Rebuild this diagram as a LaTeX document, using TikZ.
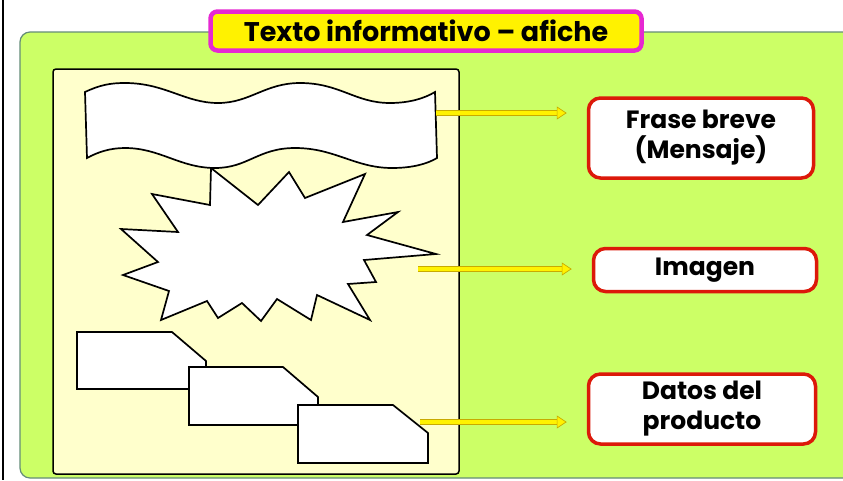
\documentclass[tikz,border=0pt]{standalone}
\usepackage{fontspec}
\setmainfont{Poppins}
\usetikzlibrary{arrows.meta}
\definecolor{verde}{RGB}{204,255,102}
\definecolor{bordeverde}{RGB}{100,140,120}
\definecolor{crema}{RGB}{255,255,204}
\definecolor{magenta}{RGB}{230,40,210}
\definecolor{rojo}{RGB}{220,25,10}
\definecolor{oliva}{RGB}{200,170,0}
\begin{document}
\begin{tikzpicture}[x=1pt,y=-1pt,
  titulo/.style={draw=magenta,fill=yellow,line width=4.5pt,rounded corners=7pt,minimum width=431pt,minimum height=39pt,font=\fontsize{27}{30}\selectfont\bfseries},
  caja/.style={draw=rojo,fill=white,line width=3.5pt,rounded corners=12pt,align=center,font=\fontsize{25}{30}\selectfont\bfseries},
  pieza/.style={draw=black,fill=white,line width=1.7pt,line join=miter},
  flecha/.style={draw=oliva,double=yellow,double distance=4pt,line width=0.7pt,shorten >=20pt,-{Triangle[length=10pt,width=13pt,fill=yellow]}}]
 \clip (0,0) rectangle (843,480);
 \fill[white] (0,0) rectangle (843,480);
 \draw[line width=1.5pt] (3,0)--(3,480); %borde izquierdo
 \draw[fill=verde,draw=bordeverde,line width=1.2pt,rounded corners=10pt] (20,32) rectangle (900,478); %fondo
 \draw[fill=crema,line width=1.5pt,rounded corners=3pt] (53,69) rectangle (459,474); %afiche
 % estrella
 \draw[pieza] (211,168)--(258,205)--(289,172)--(305,198)--(365,174)--(343,222)--(398,212)--(367,235)--(436,254)--(364,260)--(376,282)--(348,284)--(370,320)--(317,295)--(311,320)--(277,299)--(261,321)--(242,303)--(218,318)--(207,301)--(161,320)--(169,291)--(123,275)--(158,262)--(121,229)--(178,232)--(152,194)--(210,205)--cycle;
 % cinta
 \draw[pieza] (85,92) .. controls (100,85) and (110,83) .. (125,83) .. controls (165,83) and (185,103) .. (218,103) .. controls (250,103) and (265,83) .. (300,83) .. controls (340,83) and (355,103) .. (390,103) .. controls (410,103) and (425,98) .. (435,92)
  --(437,158) .. controls (427,164) and (412,168) .. (392,168) .. controls (355,168) and (335,148) .. (295,148) .. controls (258,148) and (248,168) .. (215,168) .. controls (180,168) and (160,148) .. (125,148) .. controls (110,148) and (98,152) .. (87,158)--cycle;
 % fichas
 \draw[pieza] (77,332)--(172,332)--(206,361)--(206,389)--(77,389)--cycle;
 \draw[pieza] (189,367)--(283,367)--(318,397)--(318,425)--(189,425)--cycle;
 \draw[pieza] (298,405)--(393,405)--(428,433)--(428,463)--(298,463)--cycle;
 \node[titulo] (tit) at (426,31) {Texto informativo -- afiche};
 \node[caja,minimum width=225pt,minimum height=80pt] (frase) at (701,138) {Frase breve\\(Mensaje)};
 \node[caja,minimum width=223pt,minimum height=43pt] (imagen) at (705,270) {Imagen};
 \node[caja,minimum width=227pt,minimum height=70pt] (datos) at (702,409) {Datos del\\producto};
 \coordinate (c1) at (436,113);
 \coordinate (c2) at (418,269);
 \coordinate (c3) at (420,422);
 \draw[flecha] (c1)--(c1-|frase.west);
 \draw[flecha] (c2)--(c2-|imagen.west);
 \draw[flecha] (c3)--(c3-|datos.west);
\end{tikzpicture}
\end{document}
